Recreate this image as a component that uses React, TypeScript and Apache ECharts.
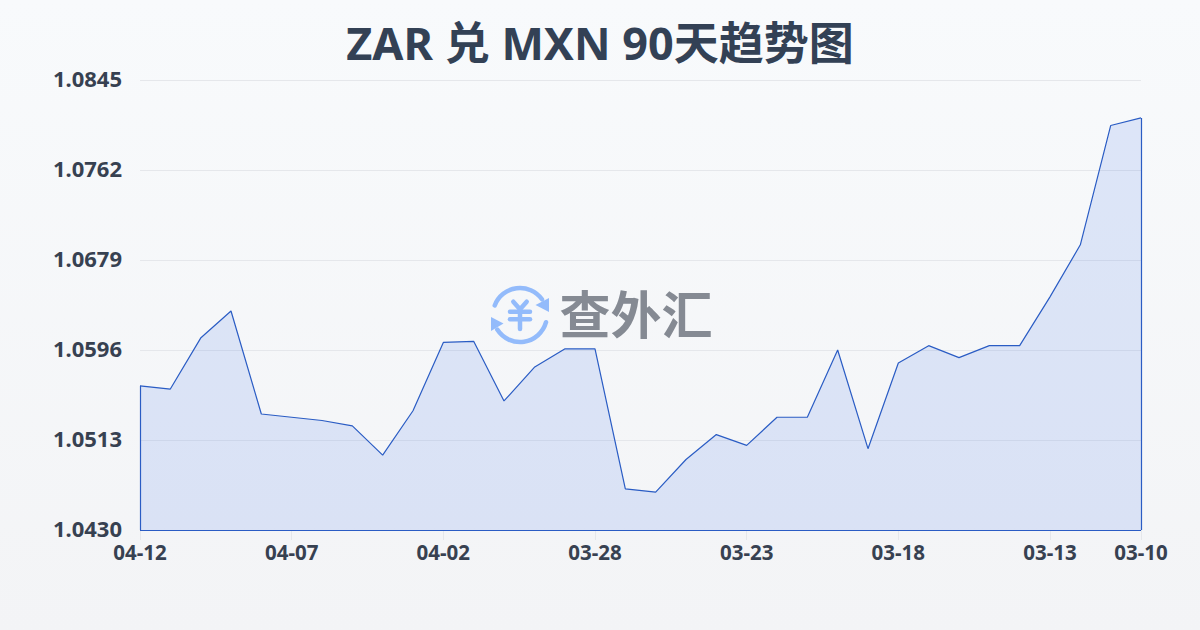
import React, { useEffect, useRef } from "react";
import * as echarts from "echarts";

const titleText = "ZAR 兑 MXN 90天趋势图";
const watermarkText = "查外汇";
const dates = [
  "04-12", "04-11", "04-10", "04-09", "04-08", "04-07", "04-06", "04-05", "04-04", "04-03", "04-02", "04-01",
  "03-31", "03-30", "03-29", "03-28", "03-27", "03-26", "03-25", "03-24", "03-23", "03-22", "03-21", "03-20",
  "03-19", "03-18", "03-17", "03-16", "03-15", "03-14", "03-13", "03-12", "03-11", "03-10",
];
const rates = [
  1.0563, 1.056, 1.0607, 1.0632, 1.0537, 1.0534, 1.0531, 1.0526, 1.0499, 1.054, 1.0603, 1.0604,
  1.0549, 1.058, 1.0597, 1.0597, 1.0468, 1.0465, 1.0495, 1.0518, 1.0508, 1.0534, 1.0534, 1.0596,
  1.0505, 1.0584, 1.06, 1.0589, 1.06, 1.06, 1.0645, 1.0693, 1.0803, 1.081,
];
const yTicks = [1.043, 1.0513, 1.0596, 1.0679, 1.0762, 1.0845];

const FONT = '"Noto Sans", "Noto Sans CJK SC", sans-serif';
const INK = "#374151";
const LINE = "#2a5cc4";
const LOGO = "#93bbfb";
const LABEL_STEP = 5;

export default function App() {
  const ref = useRef<HTMLDivElement>(null);
  useEffect(() => {
    const chart = echarts.init(ref.current!, undefined, { renderer: "svg" });
    const last = dates.length - 1;
    const showLabel = (i: number) => i % LABEL_STEP === 0 || i === last;
    const yMin = yTicks[0];
    const yMax = yTicks[yTicks.length - 1];
    const logoStroke = { stroke: LOGO, lineWidth: 4.5, lineCap: "round", fill: "none" };
    chart.setOption({
      animation: false,
      backgroundColor: {
        type: "linear", x: 0, y: 0, x2: 0, y2: 1,
        colorStops: [{ offset: 0, color: "#f8fafc" }, { offset: 1, color: "#f3f4f6" }],
      },
      title: {
        text: titleText, left: "center", top: 15,
        textStyle: { fontFamily: FONT, fontSize: 45, fontWeight: "bold", color: "#334155" },
      },
      grid: { left: 140, right: 59, top: 80, bottom: 100 },
      xAxis: {
        type: "category", data: dates, boundaryGap: false,
        axisLine: { show: false },
        axisTick: { show: true, length: 10, interval: (i: number) => showLabel(i), lineStyle: { color: "#e5e7eb" } },
        axisLabel: {
          interval: (i: number) => showLabel(i), margin: 12,
          fontFamily: FONT, fontSize: 20.5, fontWeight: "bold", color: INK,
        },
        splitLine: { show: false },
      },
      yAxis: {
        type: "value", min: yMin, max: yMax,
        axisLine: { show: false },
        axisTick: { show: false, customValues: yTicks },
        axisLabel: {
          customValues: yTicks, margin: 18,
          verticalAlign: "bottom", lineHeight: 5,
          formatter: (v: number) => v.toFixed(4),
          fontFamily: FONT, fontSize: 22, fontWeight: "bold", color: INK,
        },
        splitLine: { show: true, lineStyle: { color: "#e5e7eb", width: 1 } },
      },
      series: [{
        type: "line", data: rates, symbol: "none", smooth: false,
        lineStyle: { color: LINE, width: 1.2 },
        areaStyle: { color: "rgba(37,99,235,0.18)", origin: "start" },
        markLine: {
          silent: true, symbol: "none", animation: false,
          label: { show: false },
          lineStyle: { color: LINE, width: 1.2, type: "solid" },
          data: [
            [{ coord: [dates[0], yMin] }, { coord: [dates[0], rates[0]] }],
            [{ coord: [dates[0], yMin] }, { coord: [dates[last], yMin] }],
            [{ coord: [dates[last], yMin] }, { coord: [dates[last], rates[last]] }],
          ],
        },
      }],
      graphic: [
        { type: "arc", z: 50, shape: { cx: 520, cy: 315, r: 27, startAngle: Math.PI + 0.36, endAngle: 2 * Math.PI - 0.62, clockwise: true }, style: logoStroke },
        { type: "arc", z: 50, shape: { cx: 520, cy: 315, r: 27, startAngle: 0.27, endAngle: Math.PI - 0.57, clockwise: true }, style: logoStroke },
        { type: "polygon", z: 50, shape: { points: [[549, 298], [549, 312], [535.5, 305]] }, style: { fill: LOGO } },
        { type: "polygon", z: 50, shape: { points: [[491, 317], [491, 331], [503.5, 323.5]] }, style: { fill: LOGO } },
        { type: "polyline", z: 50, shape: { points: [[513.3, 301.7], [520, 309.3], [526.7, 301.7]] }, style: logoStroke },
        { type: "line", z: 50, shape: { x1: 510, y1: 311.7, x2: 530, y2: 311.7 }, style: logoStroke },
        { type: "line", z: 50, shape: { x1: 510, y1: 319.3, x2: 530, y2: 319.3 }, style: logoStroke },
        { type: "line", z: 50, shape: { x1: 520, y1: 309.3, x2: 520, y2: 329 }, style: logoStroke },
        {
          type: "text", z: 50, x: 636, y: 312,
          style: {
            text: watermarkText, align: "center", verticalAlign: "middle",
            fontFamily: '"Noto Sans CJK SC", sans-serif', fontSize: 51, fontWeight: "bold", fill: "#858a93",
          },
        },
      ],
    });
    return () => chart.dispose();
  }, []);
  return <div ref={ref} style={{ position: "fixed", left: 0, top: 0, width: 1200, height: 630 }} />;
}
